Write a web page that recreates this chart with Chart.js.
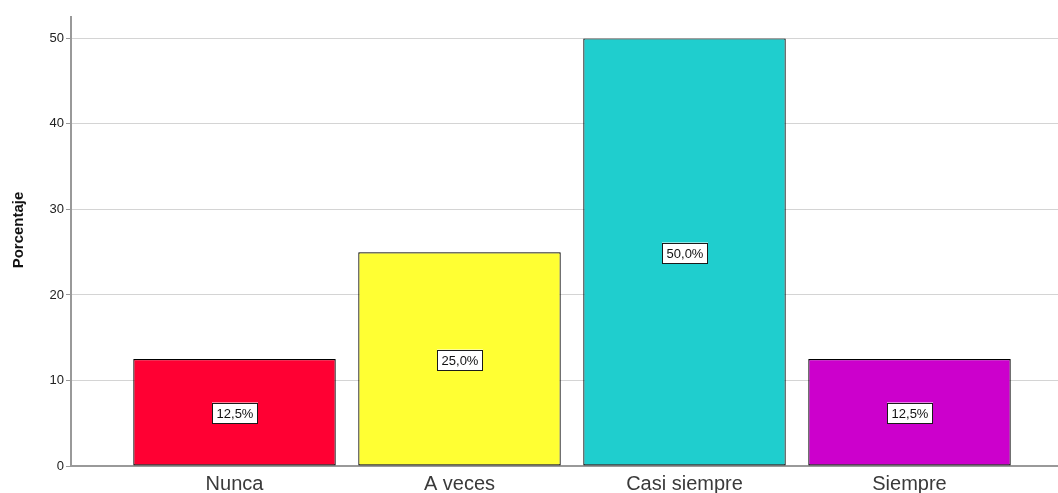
<!DOCTYPE html>
<html>
<head>
<meta charset="utf-8">
<script src="https://cdn.jsdelivr.net/npm/chart.js@4"></script>
<style>
  html, body { margin: 0; padding: 0; background: #fff; overflow: hidden; }
  #wrap { width: 1058px; height: 493px; }
</style>
</head>
<body>
<div id="wrap"><canvas id="chart" width="1058" height="493"></canvas></div>
<script>
    const categorias = ['Nunca', 'A veces', 'Casi siempre', 'Siempre'];
    const porcentajes = [12.5, 25.0, 50.0, 12.5];
    const etiquetas = ['12,5%', '25,0%', '50,0%', '12,5%'];
    const colores = ['#ff0033', '#ffff33', '#1fcece', '#cc00cc'];
    const yTicks = [0, 10, 20, 30, 40, 50];

    // cajitas blancas con el porcentaje en el centro de cada barra
    const etiquetasPlugin = {
        id: 'etiquetas',
        afterDatasetsDraw(chart) {
            const ctx = chart.ctx;
            const meta = chart.getDatasetMeta(0);
            ctx.save();
            ctx.font = '13px "Liberation Sans", Arial, sans-serif';
            ctx.textAlign = 'center';
            ctx.textBaseline = 'middle';
            meta.data.forEach((bar, i) => {
                const cx = Math.round(bar.x);
                const cy = Math.round((bar.y + bar.base) / 2) + 1;
                const w = Math.round(ctx.measureText(etiquetas[i]).width) + 9;
                const h = 21;
                ctx.fillStyle = '#fff';
                ctx.fillRect(cx - w / 2, cy - h / 2, w, h);
                ctx.strokeStyle = '#1a1a1a';
                ctx.lineWidth = 1;
                ctx.strokeRect(Math.round(cx - w / 2) + 0.5, Math.round(cy - h / 2) + 0.5, w - 1, h - 1);
                ctx.fillStyle = '#111';
                ctx.fillText(etiquetas[i], cx, cy + 1);
            });
            ctx.restore();
        },
        afterDraw(chart) {
            const ctx = chart.ctx;
            ctx.save();
            ctx.translate(19, 230);
            ctx.rotate(-Math.PI / 2);
            ctx.font = 'bold 15px "Liberation Sans", Arial, sans-serif';
            ctx.fillStyle = '#111';
            ctx.textAlign = 'center';
            ctx.textBaseline = 'middle';
            ctx.fillText('Porcentaje', 0, 0);
            ctx.restore();
        }
    };

    new Chart(document.getElementById('chart'), {
        type: 'bar',
        data: {
            datasets: [{
                data: porcentajes.map((v, i) => ({ x: i, y: v })),
                backgroundColor: colores,
                borderColor: '#000',
                borderWidth: 1.2,
                borderSkipped: false,
                barPercentage: 0.9,
                categoryPercentage: 1
            }]
        },
        options: {
            responsive: false,
            animation: false,
            layout: { padding: { top: 17, right: 0, left: 0, bottom: 0 } },
            plugins: { legend: { display: false }, tooltip: { enabled: false } },
            scales: {
                x: {
                    type: 'linear',
                    offset: false,
                    min: -0.7267,
                    max: 3.66,
                    afterBuildTicks: s => { s.ticks = categorias.map((c, i) => ({ value: i })); },
                    afterFit: s => { s.height = 27; },
                    ticks: {
                        callback: v => categorias[v] ?? '',
                        color: '#3a3a3a',
                        font: { size: 20, family: '"Liberation Sans", Arial, sans-serif' },
                        padding: 6,
                        maxRotation: 0
                    },
                    grid: { display: false, drawTicks: false, offset: false },
                    border: { color: '#999', width: 2 }
                },
                y: {
                    min: 0,
                    max: 52.5,
                    afterBuildTicks: s => { s.ticks = yTicks.map(v => ({ value: v })); },
                    afterFit: s => { s.width = 71; },
                    ticks: {
                        color: '#222',
                        font: { size: 13, family: '"Liberation Sans", Arial, sans-serif' },
                        padding: 2
                    },
                    grid: { color: '#d4d4d4', lineWidth: 1, tickLength: 5, tickColor: '#999' },
                    border: { color: '#999', width: 2 }
                }
            }
        },
        plugins: [etiquetasPlugin]
    });
</script>
</body>
</html>
